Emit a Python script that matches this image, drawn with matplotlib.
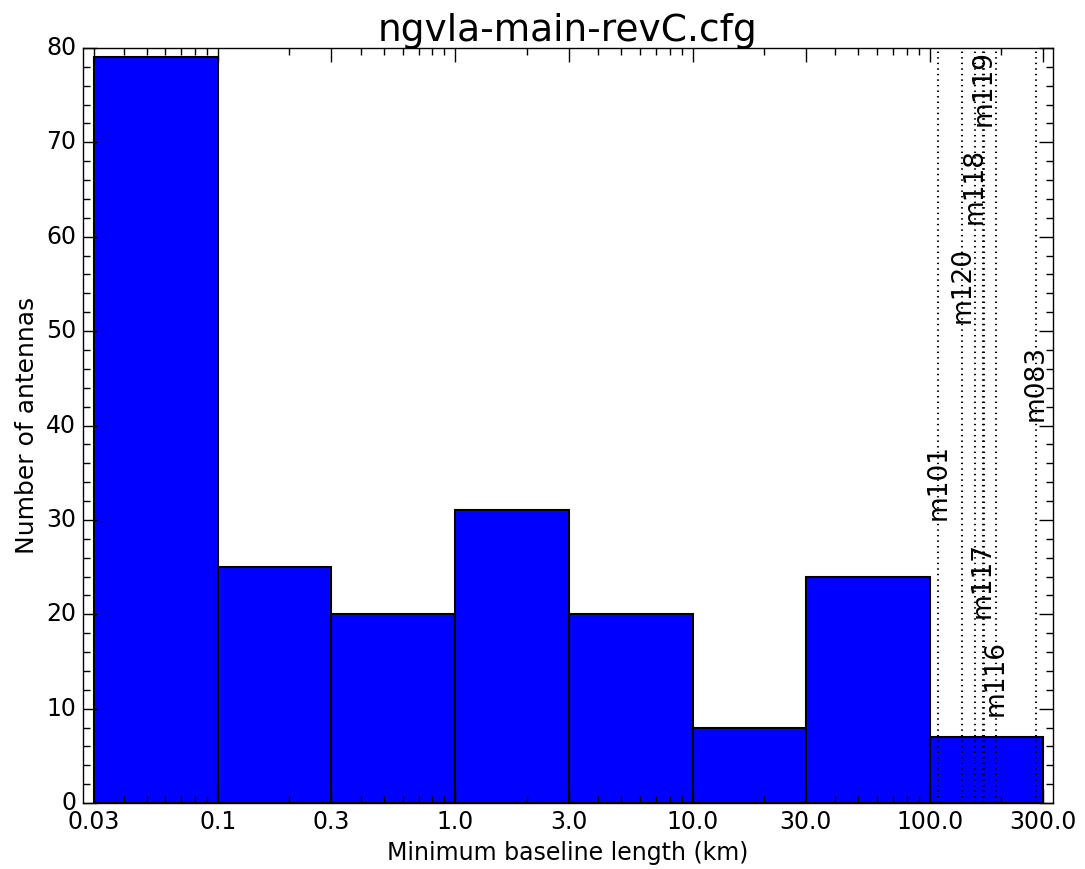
import numpy as np
import matplotlib
matplotlib.use("Agg")
import matplotlib.pyplot as plt
from matplotlib.ticker import NullFormatter, MultipleLocator

plt.style.use("classic")

# histogram of minimum baseline length per antenna
bin_edges = [0.03, 0.1, 0.3, 1.0, 3.0, 10.0, 30.0, 100.0, 300.0]
counts = [79, 25, 20, 31, 20, 8, 24, 7]

# outlying antennas, marked with dotted lines (km)
station_names = ["m116", "m117", "m101", "m083", "m120", "m118", "m119"]
station_dist = [190.0, 167.0, 108.4, 280.0, 136.7, 155.0, 168.5]

fig = plt.figure(figsize=(10.85, 8.69), dpi=100)
ax = fig.add_axes([0.0765, 0.0759, 0.8940, 0.8689])

edges = np.array(bin_edges)
ax.bar(edges[:-1], counts, width=np.diff(edges), align="edge",
       color="b", edgecolor="k", linewidth=1.5)

ax.set_xscale("log")
ax.set_xlim(edges[0] * 0.9, edges[-1] * 1.1)
ax.set_ylim(0, 80)
ax.set_xticks(edges)
ax.set_xticklabels([str(float(e)) for e in edges])
ax.xaxis.set_minor_formatter(NullFormatter())
ax.yaxis.set_major_locator(MultipleLocator(10))
ax.yaxis.set_minor_locator(MultipleLocator(2))
ax.tick_params(which="major", length=10, width=1, direction="in", labelsize=17, pad=5)
ax.tick_params(which="minor", length=5, width=1, direction="in")

# labels stacked up the plot, one per station
label_y = np.linspace(13.2, 75.8, len(station_names))
for name, dist, y in zip(station_names, station_dist, label_y):
    ax.axvline(dist, color="k", linestyle=(0, (1, 3)), linewidth=1.5)
    ax.text(dist, y, name, rotation=90, ha="center", va="center", fontsize=19)

ax.set_xlabel("Minimum baseline length (km)", fontsize=17)
ax.set_ylabel("Number of antennas", fontsize=18)
ax.set_title("ngvla-main-revC.cfg", fontsize=27, y=1.0)

fig.savefig("out.png", dpi=100, facecolor="white")
